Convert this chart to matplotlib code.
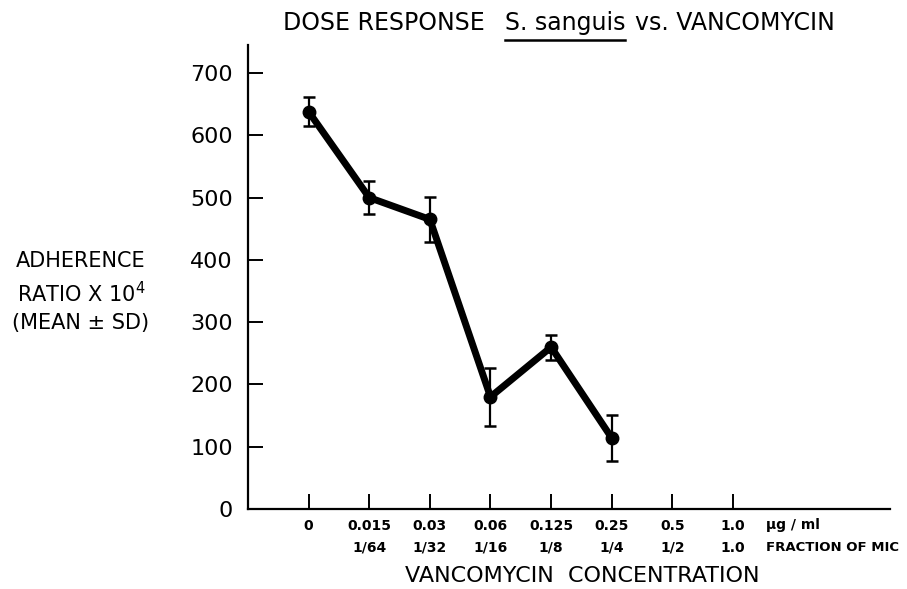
import matplotlib
matplotlib.use("Agg")
import matplotlib.pyplot as plt
from matplotlib.lines import Line2D

# Values
conc_labels = ['0', '0.015', '0.03', '0.06', '0.125', '0.25', '0.5', '1.0']
mic_labels = ['', '1/64', '1/32', '1/16', '1/8', '1/4', '1/2', '1.0']
adherence = [638, 500, 465, 180, 260, 114]
sd = [23, 27, 36, 46, 20, 37]
y_ticks = [0, 100, 200, 300, 400, 500, 600, 700]

plt.rcParams['font.family'] = ['DejaVu Sans']

fig = plt.figure(figsize=(9.07, 5.89), dpi=100)
ax = fig.add_axes([0.2734, 0.1358, 0.9813 - 0.2734, 0.9236 - 0.1358])

x = list(range(len(adherence)))
ax.errorbar(x, adherence, yerr=sd, color='black', linewidth=5,
            marker='o', markersize=9, elinewidth=1.6, capsize=4.5, capthick=1.8)

ax.set_xlim(-1.0, 9.59)
ax.set_ylim(0, 745)

ax.spines['top'].set_visible(False)
ax.spines['right'].set_visible(False)
ax.spines['left'].set_linewidth(1.6)
ax.spines['bottom'].set_linewidth(1.6)

ax.set_yticks(y_ticks)
ax.set_yticklabels([str(v) for v in y_ticks], fontsize=16)
ax.tick_params(axis='y', direction='in', length=11, width=1.4, pad=11)

ax.set_xticks(range(len(conc_labels)))
ax.set_xticklabels(conc_labels, fontsize=10, fontweight='bold')
ax.tick_params(axis='x', direction='in', length=11, width=1.4, pad=7)

# second row of x labels: fraction of MIC
trans = ax.get_xaxis_transform()
for i, lab in enumerate(mic_labels):
    if lab:
        ax.text(i, -0.083, lab, transform=trans, ha='center', va='center',
                fontsize=10, fontweight='bold')
ax.text(7.54, -0.035, 'µg / ml', transform=trans, ha='left', va='center',
        fontsize=10, fontweight='bold')
ax.text(7.54, -0.083, 'FRACTION OF MIC', transform=trans, ha='left', va='center',
        fontsize=9.5, fontweight='bold')

fig.text(582 / 907, 1 - 576 / 589, 'VANCOMYCIN  CONCENTRATION', ha='center',
         va='center', fontsize=16)

fig.text(81 / 907, 1 - 292 / 589, 'ADHERENCE\nRATIO X 10$^4$\n(MEAN ± SD)',
         ha='center', va='center', fontsize=15, linespacing=1.45)

# title with underlined species name, pieces laid out left to right
fig.canvas.draw()
renderer = fig.canvas.get_renderer()
inv = fig.transFigure.inverted()
ty = 1 - 23 / 589
t1 = fig.text(283 / 907, ty, 'DOSE RESPONSE', ha='left', va='center', fontsize=17)
x1 = t1.get_window_extent(renderer).x1
t2 = fig.text((x1 + 20) / 907, ty, 'S. sanguis', ha='left', va='center', fontsize=17)
bb = t2.get_window_extent(renderer)
t3 = fig.text((bb.x1 + 10) / 907, ty, 'vs. VANCOMYCIN', ha='left', va='center', fontsize=17)
fig.add_artist(Line2D([bb.x0 / 907, bb.x1 / 907], [1 - 40 / 589] * 2, color='black',
                      linewidth=1.8, transform=fig.transFigure))

fig.savefig('out.png', dpi=100)
